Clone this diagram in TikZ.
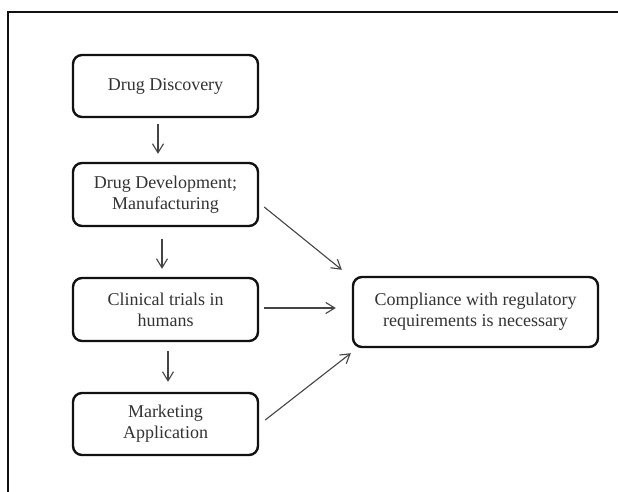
\documentclass[tikz,border=0pt]{standalone}
\usepackage{fontspec}
\setmainfont{Liberation Serif}
\usetikzlibrary{arrows.meta}
\definecolor{inkbox}{HTML}{111111}
\definecolor{inktext}{HTML}{333333}
\definecolor{inkline}{HTML}{444444}
\begin{document}
\begin{tikzpicture}[x=1pt,y=-1pt,
  stagebox/.style={draw=inkbox, line width=2.4pt, rounded corners=9pt,
    minimum width=185pt, minimum height=62pt, align=center,
    text=inktext, font=\fontsize{18}{21}\selectfont, inner sep=2pt},
  conn/.style={draw=inkline, line width=1.1pt,
    -{Straight Barb[length=9pt,width=11pt,line width=1.1pt]}}]
  % canvas and the open frame (top and left sides only)
  \useasboundingbox (0,0) rectangle (618,492);
  \fill[white] (0,0) rectangle (618,492);
  \draw[inkbox, line width=2.6pt] (8,492) -- (8,12) -- (618,12);

  % process stages
  \node[stagebox] (disc) at (165.5,86) {Drug Discovery};
  \node[stagebox, minimum height=63pt] (dev) at (165.5,194.5) {Drug Development;\\Manufacturing};
  \node[stagebox, minimum height=63pt] (clin) at (165.5,309.5) {Clinical trials in\\humans};
  \node[stagebox] (mkt) at (165.5,424) {Marketing\\Application};
  \node[stagebox, minimum width=245pt, minimum height=70pt] (comp) at (475.5,312)
    {Compliance with regulatory\\requirements is necessary};

  % sequence arrows
  \draw[conn] ([xshift=-7.5pt,yshift=-6pt]disc.south) -- ([xshift=-7.5pt,yshift=8pt]dev.north);
  \draw[conn] ([xshift=-3.5pt,yshift=-12pt]dev.south) -- ([xshift=-3.5pt,yshift=8pt]clin.north);
  \draw[conn] ([xshift=2.5pt,yshift=-9pt]clin.south) -- ([xshift=2.5pt,yshift=10pt]mkt.north);

  % arrows into the compliance box
  \draw[conn] ([xshift=5pt,yshift=-12.5pt]dev.east) -- ([xshift=-10pt,yshift=6pt]comp.north west);
  \draw[conn] ([xshift=5pt,yshift=1.5pt]clin.east) -- ([xshift=-16pt,yshift=4pt]comp.west);
  \draw[conn] ([xshift=6pt,yshift=4pt]mkt.east) -- ([xshift=-1pt,yshift=-5pt]comp.south west);
\end{tikzpicture}
\end{document}
